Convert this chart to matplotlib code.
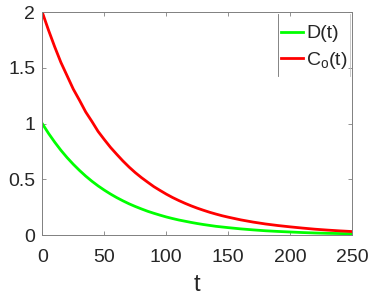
import matplotlib
matplotlib.use("Agg")
import matplotlib.pyplot as plt
from matplotlib.lines import Line2D

plt.rcParams['font.family'] = ['Liberation Sans', 'DejaVu Sans']

# values
t = [0, 5, 10, 15, 20, 25, 30, 35, 40, 45, 50, 55, 60, 65, 70, 75, 80, 85,
     90, 95, 100, 105, 110, 115, 120, 125, 130, 135, 140, 145, 150,
     160, 170, 180, 190, 200, 210, 220, 230, 240, 250]
D = [1.00, 0.913, 0.834, 0.761, 0.695, 0.635, 0.58, 0.529, 0.483, 0.441,
     0.403, 0.368, 0.336, 0.307, 0.28, 0.256, 0.234, 0.213, 0.195, 0.178,
     0.162, 0.148, 0.135, 0.124, 0.113, 0.103, 0.094, 0.086, 0.078, 0.072,
     0.066, 0.055, 0.046, 0.038, 0.032, 0.027, 0.022, 0.018, 0.015, 0.013,
     0.011]
Co = [2.00, 1.84, 1.69, 1.55, 1.43, 1.31, 1.21, 1.105, 1.02, 0.93,
      0.857, 0.787, 0.725, 0.665, 0.61, 0.56, 0.515, 0.474, 0.434, 0.40,
      0.367, 0.337, 0.31, 0.285, 0.262, 0.241, 0.222, 0.204, 0.188, 0.173,
      0.16, 0.136, 0.116, 0.099, 0.085, 0.073, 0.062, 0.052, 0.044, 0.037,
      0.031]
xticks = [0, 50, 100, 150, 200, 250]
yticks = [0, 0.5, 1, 1.5, 2]
ytick_labels = ['0', '0.5', '1', '1.5', '2']

fig = plt.figure(figsize=(3.81, 3.02), dpi=100)
ax = fig.add_axes([42.3/381, 67/302, 310/381, 222.7/302])

ax.plot(t, D, color=(0, 1, 0), lw=2, label='D(t)')
ax.plot(t, Co, color=(1, 0, 0), lw=2, label=r'C$_\mathregular{o}$(t)')

ax.set_xlim(0, 250)
ax.set_ylim(0, 2)
ax.set_xticks(xticks)
ax.set_yticks(yticks)
ax.set_yticklabels(ytick_labels)
ax.tick_params(direction='in', length=3, width=0.6, color='#808080',
               top=True, right=True, labelsize=14, labelcolor='#262626')
ax.tick_params(axis='x', pad=10)
ax.tick_params(axis='y', pad=5)
for s in ax.spines.values():
    s.set_color('#808080')
    s.set_linewidth(0.7)
ax.set_xlabel('t', fontsize=17, color='#262626', labelpad=6)

leg = ax.legend(loc='upper left', bbox_to_anchor=(271/381, (302-15)/302),
                bbox_transform=fig.transFigure, frameon=False, fontsize=14,
                borderpad=0, handlelength=1.15, handletextpad=0.16,
                labelspacing=0.4)
for txt in leg.get_texts():
    txt.set_color('#262626')

fig.add_artist(Line2D([278/381, 278/381], [(302-14)/302, (302-76)/302],
                      transform=fig.transFigure, color='#707070', lw=0.6))
fig.add_artist(Line2D([350/381, 350/381], [(302-14)/302, (302-76)/302],
                      transform=fig.transFigure, color='#c0c0c0', lw=0.6))

fig.savefig('out.png', dpi=100)
